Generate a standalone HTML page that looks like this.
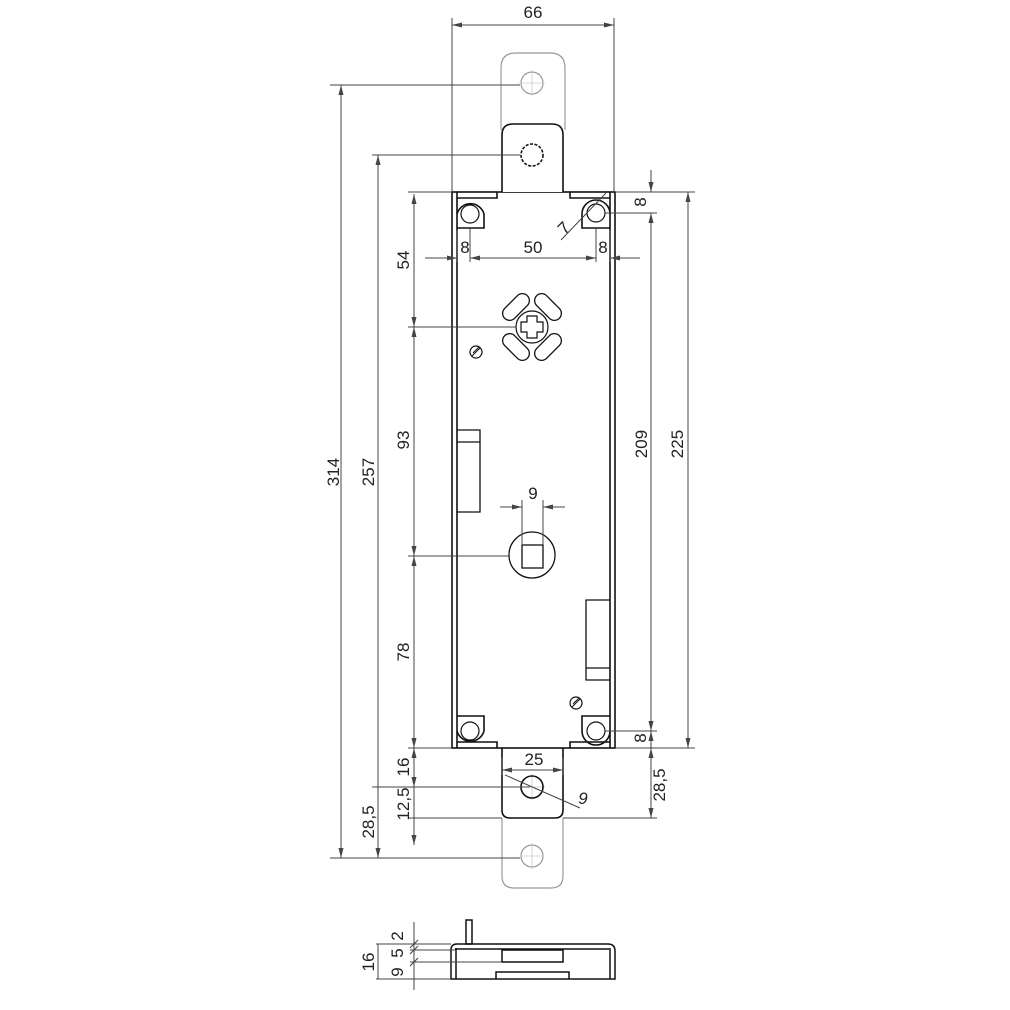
<!DOCTYPE html>
<html><head><style>html,body{margin:0;padding:0;background:#fff}svg{display:block}</style></head>
<body>
<svg width="1010" height="1010" viewBox="0 0 1010 1010" xmlns="http://www.w3.org/2000/svg" font-family="Liberation Sans, sans-serif" font-size="17" fill="none">
<defs>
<marker id="a" viewBox="0 0 10 6" refX="10" refY="3" markerWidth="10" markerHeight="6" orient="auto-start-reverse" markerUnits="userSpaceOnUse"><path d="M0,0.5 L10,3 L0,5.5" fill="#444" stroke="none"/></marker>
</defs>
<g stroke="#999" stroke-width="1.2">
<path d="M501,130 V68 Q501,53 516,53 H550 Q565,53 565,68 V130"/>
<path d="M563,818 V876 Q563,888 551,888 H514 Q502,888 502,876 V818"/>
<circle cx="532" cy="83" r="11"/><circle cx="532" cy="856" r="11"/>
</g>
<g stroke="#ccc" stroke-width="0.8">
<path d="M519,83H545M532,70V96M519,856H545M532,843V869M519,155H545M532,142V168M519,787H545M532,774V800"/>
<path d="M458,214H482M470,202V226M584,213H608M596,201V225M458,731H482M470,719V743M584,731H608M596,719V743"/>
<path d="M510,555H554M532,533V577M511,327H553M532,306V348"/>
</g>
<g stroke="#111" stroke-width="1.6">
<rect x="452" y="192" width="163" height="556" fill="#fff"/>
<path d="M457,192V748M610,192V748"/>
<path d="M502,192V135Q502,124 513,124H552Q563,124 563,135V192" fill="#fff"/>
<path d="M502,748V810Q502,818 510,818H555Q563,818 563,810V748"/>
<circle cx="532" cy="155" r="11" stroke-dasharray="3,1.5"/>
<circle cx="532" cy="787" r="11"/>
<path d="M457,198H497V192M457,228H484V214A14,14 0 0 0 457,214"/>
<path d="M610,198H570V192M610,228H582V214A14,14 0 0 1 610,214"/>
<path d="M457,742H497V748M457,716H484V731A14,14 0 0 1 457,731"/>
<path d="M610,742H570V748M610,716H582V731A14,14 0 0 0 610,731"/>
<circle cx="470" cy="214" r="9" stroke-width="1.2"/><circle cx="596" cy="213" r="9" stroke-width="1.2"/>
<circle cx="470" cy="731" r="9" stroke-width="1.2"/><circle cx="596" cy="731" r="9" stroke-width="1.2"/>
<circle cx="532" cy="327" r="16" stroke-width="1.2"/>
<path d="M527,316h10v6h6v10h-6v6h-10v-6h-6v-10h6z" stroke-width="1.2"/>
<g stroke-width="1.3">
<rect x="-16" y="-7" width="32" height="14" rx="7" transform="translate(516,307) rotate(-45)"/>
<rect x="-16" y="-7" width="32" height="14" rx="7" transform="translate(548,307) rotate(45)"/>
<rect x="-16" y="-7" width="32" height="14" rx="7" transform="translate(516,347) rotate(45)"/>
<rect x="-16" y="-7" width="32" height="14" rx="7" transform="translate(548,347) rotate(-45)"/>
</g>
<circle cx="476" cy="352" r="6" stroke-width="1.2"/><path d="M472,356L480,348M473,353L479,347" stroke-width="1"/>
<circle cx="576" cy="703" r="6" stroke-width="1.2"/><path d="M572,707L580,699M573,704L579,698" stroke-width="1"/>
<path d="M457,430H480V512H457M457,442H480" stroke-width="1.3"/>
<path d="M610,600H586V680H610M586,668H610" stroke-width="1.3"/>
<circle cx="532" cy="555" r="23" stroke-width="1.3"/>
<rect x="522" y="545" width="21" height="23" stroke-width="1.3"/>
</g>
<g stroke="#444" stroke-width="1">
<path d="M452,18V192M614,18V192"/>
<path d="M452,25H614" marker-start="url(#a)" marker-end="url(#a)"/>
<path d="M330,85H520M372,155H520M330,858H520M372,787H530"/>
<path d="M341,85V858" marker-start="url(#a)" marker-end="url(#a)"/>
<path d="M378,155V858" marker-start="url(#a)" marker-end="url(#a)"/>
<path d="M408,192H452M408,327H516M408,556H510M408,748H452M408,818H502"/>
<path d="M414,194V327" marker-start="url(#a)" marker-end="url(#a)"/>
<path d="M414,327V556" marker-start="url(#a)" marker-end="url(#a)"/>
<path d="M414,556V748" marker-start="url(#a)" marker-end="url(#a)"/>
<path d="M414,748V787" marker-start="url(#a)" marker-end="url(#a)"/>
<path d="M414,787V845" marker-end="url(#a)"/>
<path d="M615,192H695M605,213H657M615,748H695M605,731H657M563,818H657"/>
<path d="M651,170V192" marker-end="url(#a)"/>
<path d="M651,213V731" marker-start="url(#a)" marker-end="url(#a)"/>
<path d="M651,748V818" marker-start="url(#a)" marker-end="url(#a)"/>
<path d="M651,731V748" marker-start="url(#a)"/>
<path d="M688,192V748" marker-start="url(#a)" marker-end="url(#a)"/>
<path d="M457,230V262M470,228V262M596,228V262M610,230V262"/>
<path d="M425,258H457" marker-end="url(#a)"/>
<path d="M470,258H596" marker-start="url(#a)" marker-end="url(#a)"/>
<path d="M640,258H610" marker-end="url(#a)"/>
<path d="M561,240L606,193"/>
<path d="M522,500V545M543,500V545"/>
<path d="M500,507H522" marker-end="url(#a)"/><path d="M565,507H543" marker-end="url(#a)"/>
<path d="M502,775V758M563,775V758"/>
<path d="M502,770H563" marker-start="url(#a)" marker-end="url(#a)"/>
<path d="M505,775L580,808"/>
</g>
<g fill="#222" stroke="none">
<text x="533" y="18" text-anchor="middle">66</text>
<text transform="translate(339,472) rotate(-90)" text-anchor="middle">314</text>
<text transform="translate(374,472) rotate(-90)" text-anchor="middle">257</text>
<text transform="translate(409,260) rotate(-90)" text-anchor="middle">54</text>
<text transform="translate(409,440) rotate(-90)" text-anchor="middle">93</text>
<text transform="translate(409,652) rotate(-90)" text-anchor="middle">78</text>
<text transform="translate(409,767) rotate(-90)" text-anchor="middle">16</text>
<text transform="translate(409,804) rotate(-90)" text-anchor="middle">12,5</text>
<text transform="translate(374,822) rotate(-90)" text-anchor="middle">28,5</text>
<text transform="translate(647,444) rotate(-90)" text-anchor="middle">209</text>
<text transform="translate(683,444) rotate(-90)" text-anchor="middle">225</text>
<text transform="translate(646,202) rotate(-90)" text-anchor="middle">8</text>
<text transform="translate(646,738) rotate(-90)" text-anchor="middle">8</text>
<text transform="translate(665,785) rotate(-90)" text-anchor="middle">28,5</text>
<text x="465" y="253" text-anchor="middle">8</text>
<text x="533" y="253" text-anchor="middle">50</text>
<text x="603" y="253" text-anchor="middle">8</text>
<text transform="translate(568,232) rotate(-45)" text-anchor="middle">7</text>
<text x="533" y="499" text-anchor="middle">9</text>
<text x="534" y="765" text-anchor="middle">25</text>
<text x="583" y="804" text-anchor="middle" font-style="italic">9</text>
<text transform="translate(374,962) rotate(-90)" text-anchor="middle">16</text>
<text transform="translate(403,936) rotate(-90)" text-anchor="middle">2</text>
<text transform="translate(403,953) rotate(-90)" text-anchor="middle">5</text>
<text transform="translate(403,972) rotate(-90)" text-anchor="middle">9</text>
</g>
<g stroke="#111" stroke-width="1.5">
<path d="M451,979V950Q451,944 457,944H608Q615,944 615,951V979Z"/>
<path d="M456,948V979M610,948V979M455,949H609"/>
<rect x="466" y="920" width="6" height="24"/>
<rect x="502" y="950" width="61" height="12"/>
<path d="M496,979V972H569V979"/>
</g>
<g stroke="#444" stroke-width="1">
<path d="M376,944H451M376,979H451M410,950H455M410,962H502"/>
<path d="M378,944V979"/>
<path d="M414,922V990"/>
<path d="M410,948L418,940M410,954L418,946M410,966L418,958"/>
</g>
</svg>
</body></html>
